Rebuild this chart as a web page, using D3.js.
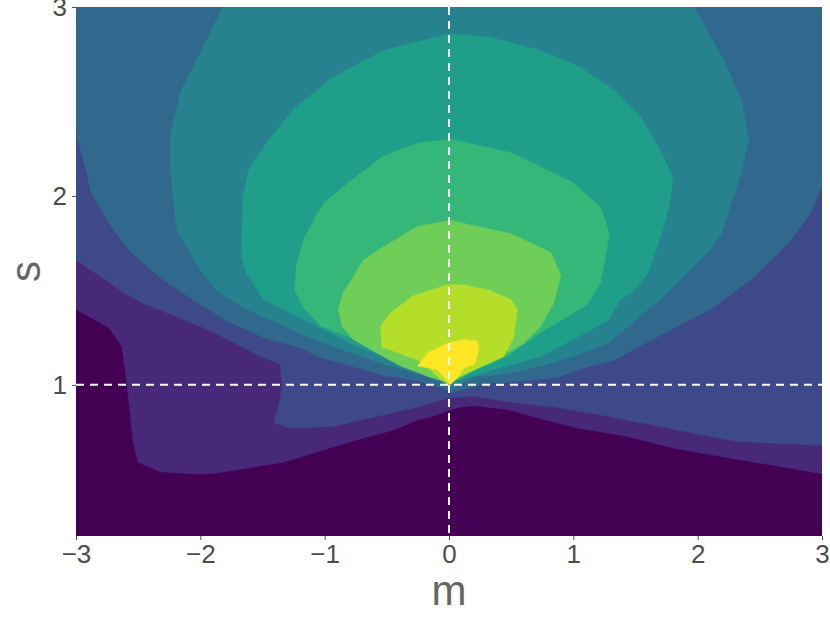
<!DOCTYPE html>
<html>
<head>
<meta charset="utf-8">
<script src="https://cdn.jsdelivr.net/npm/d3@7"></script>
<style>
    body { margin: 0; background: #fff; }
    text { font-family: "Liberation Sans", Arial, sans-serif; }
</style>
</head>
<body>
<div id="chart"></div>
<script>
// tick values
const mTicks = [-3, -2, -1, 0, 1, 2, 3];
const sTicks = [1, 2, 3];

// contour level boundaries, as [m, s] pairs
// levels 1-3 run from the left edge to the right edge (region above them is filled)
const level1 = [[-3.00, 1.40], [-2.73, 1.30], [-2.63, 1.20], [-2.59, 1.00], [-2.54, 0.70], [-2.50, 0.59],
    [-2.32, 0.54], [-2.08, 0.53], [-1.90, 0.53], [-1.33, 0.59], [-0.79, 0.70], [-0.45, 0.76], [-0.25, 0.815],
    [-0.15, 0.83], [0.07, 0.88], [0.20, 0.89], [0.47, 0.87], [0.74, 0.82], [1.04, 0.77], [1.41, 0.73],
    [1.84, 0.66], [2.37, 0.60], [3.00, 0.53]];
const level2 = [[-3.00, 1.66], [-2.73, 1.54], [-2.62, 1.49], [-2.46, 1.43], [-2.19, 1.36], [-1.93, 1.29],
    [-1.69, 1.21], [-1.52, 1.15], [-1.36, 1.11], [-1.34, 1.00], [-1.37, 0.89], [-1.41, 0.80], [-1.28, 0.77],
    [-0.93, 0.78], [-0.53, 0.84], [-0.21, 0.89], [0.00, 0.93], [0.21, 0.94], [0.47, 0.91], [0.87, 0.88],
    [1.22, 0.84], [1.54, 0.80], [1.92, 0.75], [2.32, 0.70], [3.00, 0.68]];
const level3 = [[-3.00, 2.33], [-2.92, 2.14], [-2.88, 2.02], [-2.80, 1.93], [-2.71, 1.83], [-2.57, 1.71],
    [-2.33, 1.57], [-2.06, 1.45], [-1.79, 1.34], [-1.49, 1.25], [-1.17, 1.19], [-1.06, 1.15], [-0.79, 1.10],
    [-0.53, 1.05], [-0.25, 1.02], [-0.04, 0.98], [0.01, 0.96], [0.33, 1.01], [0.60, 1.02], [0.87, 1.04],
    [1.14, 1.10], [1.33, 1.13], [1.52, 1.20], [1.78, 1.29], [2.13, 1.41], [2.45, 1.57], [2.73, 1.75],
    [2.91, 1.91], [3.00, 2.05]];
// level 4 touches the top edge
const level4 = [[-1.82, 3.00], [-2.00, 2.76], [-2.16, 2.55], [-2.24, 2.33], [-2.24, 2.15], [-2.22, 1.99],
    [-2.19, 1.82], [-2.11, 1.73], [-1.98, 1.59], [-1.87, 1.50], [-1.66, 1.41], [-1.39, 1.33], [-1.12, 1.25],
    [-0.79, 1.17], [-0.53, 1.11], [-0.25, 1.06], [-0.04, 1.01], [0.01, 0.98], [0.20, 1.04], [0.47, 1.06],
    [0.74, 1.10], [1.00, 1.15], [1.28, 1.22], [1.46, 1.32], [1.78, 1.50], [2.08, 1.70], [2.19, 1.80],
    [2.24, 1.90], [2.35, 2.12], [2.41, 2.30], [2.35, 2.51], [2.21, 2.72], [1.97, 3.00]];
// levels 5-9 are closed
const level5 = [[0.01, 2.86], [0.33, 2.84], [0.74, 2.77], [1.06, 2.68], [1.33, 2.56], [1.54, 2.42],
    [1.70, 2.24], [1.80, 2.10], [1.78, 1.98], [1.73, 1.84], [1.60, 1.59], [1.49, 1.50], [1.38, 1.45],
    [1.28, 1.34], [1.00, 1.24], [0.74, 1.15], [0.47, 1.10], [0.20, 1.05], [0.01, 1.01], [-0.04, 1.03],
    [-0.25, 1.08], [-0.53, 1.15], [-0.79, 1.22], [-1.06, 1.31], [-1.33, 1.40], [-1.49, 1.45], [-1.63, 1.59],
    [-1.67, 1.68], [-1.66, 1.99], [-1.61, 2.14], [-1.48, 2.27], [-1.25, 2.46], [-0.93, 2.63], [-0.53, 2.77]];
const level6 = [[0.01, 2.30], [0.50, 2.23], [1.00, 2.07], [1.22, 1.94], [1.29, 1.80], [1.22, 1.54],
    [1.12, 1.43], [0.95, 1.36], [0.74, 1.28], [0.47, 1.15], [0.20, 1.08], [0.01, 1.03], [-0.09, 1.08],
    [-0.25, 1.13], [-0.53, 1.19], [-0.79, 1.25], [-1.03, 1.31], [-1.17, 1.41], [-1.24, 1.50], [-1.23, 1.62],
    [-1.17, 1.77], [-1.07, 1.89], [-1.01, 1.96], [-0.79, 2.08], [-0.53, 2.21], [-0.25, 2.28]];
const level7 = [[0.01, 1.87], [0.50, 1.80], [0.82, 1.70], [0.90, 1.58], [0.84, 1.43], [0.74, 1.31],
    [0.60, 1.22], [0.47, 1.17], [0.33, 1.12], [0.15, 1.06], [0.01, 1.01], [-0.15, 1.04], [-0.39, 1.10],
    [-0.53, 1.15], [-0.77, 1.24], [-0.86, 1.31], [-0.89, 1.40], [-0.85, 1.49], [-0.77, 1.57], [-0.69, 1.66],
    [-0.53, 1.73], [-0.25, 1.84]];
const level8 = [[-0.01, 1.53], [0.12, 1.53], [0.33, 1.50], [0.50, 1.45], [0.55, 1.40], [0.52, 1.25],
    [0.44, 1.15], [0.31, 1.11], [0.17, 1.07], [0.07, 1.04], [0.00, 1.00], [-0.07, 1.03], [-0.15, 1.08],
    [-0.25, 1.13], [-0.41, 1.17], [-0.54, 1.20], [-0.55, 1.31], [-0.47, 1.38], [-0.29, 1.47]];
const level9 = [[-0.25, 1.10], [-0.17, 1.17], [-0.01, 1.22], [0.12, 1.24], [0.23, 1.23], [0.24, 1.19],
    [0.21, 1.11], [0.12, 1.09], [0.07, 1.04], [0.01, 1.00], [-0.04, 1.04], [-0.09, 1.08]];

const levels = [level1, level2, level3, level4, level5, level6, level7, level8, level9];
// which levels are open curves that need the top corners to close
const openLevels = [0, 1, 2];

const width = 830, height = 623;
const margin = {top: 7, right: 8, bottom: 87, left: 76};

const x = d3.scaleLinear().domain([-3, 3]).range([margin.left, width - margin.right]);
const y = d3.scaleLinear().domain([0.2, 3]).range([height - margin.bottom, margin.top]);

const color = (k) => d3.interpolateViridis(k / 9);

const svg = d3.select("#chart")
    .append("svg")
    .attr("width", width)
    .attr("height", height);

svg.append("clipPath")
    .attr("id", "plot-clip")
    .append("rect")
    .attr("x", x(-3))
    .attr("y", y(3))
    .attr("width", x(3) - x(-3))
    .attr("height", y(0.2) - y(3));

const plot = svg.append("g").attr("clip-path", "url(#plot-clip)");

// lowest band fills the whole panel
plot.append("rect")
    .attr("x", x(-3))
    .attr("y", y(3))
    .attr("width", x(3) - x(-3))
    .attr("height", y(0.2) - y(3))
    .attr("fill", color(0));

const line = d3.line()
    .x(d => x(d[0]))
    .y(d => y(d[1]));

levels.forEach((pts, i) => {
    let poly = pts.slice();
    if (openLevels.includes(i)) {
        poly.push([3, 3], [-3, 3]);
    }
    plot.append("path")
        .attr("d", line(poly) + "Z")
        .attr("fill", color(i + 1))
        .attr("stroke", color(i + 1))
        .attr("stroke-width", 0.5);
});

// reference lines at m = 0 and s = 1
plot.append("line")
    .attr("x1", x(0)).attr("x2", x(0))
    .attr("y1", y(3)).attr("y2", y(0.2))
    .attr("stroke", "white")
    .attr("stroke-width", 2)
    .attr("stroke-dasharray", "8,6");

plot.append("line")
    .attr("x1", x(-3)).attr("x2", x(3))
    .attr("y1", y(1)).attr("y2", y(1))
    .attr("stroke", "white")
    .attr("stroke-width", 2)
    .attr("stroke-dasharray", "8,6");

// axes
const fmt = d3.format("d");

const xAxis = svg.append("g")
    .attr("transform", "translate(0," + y(0.2) + ")")
    .call(d3.axisBottom(x).tickValues(mTicks).tickFormat(fmt).tickSize(4).tickPadding(5));

const yAxis = svg.append("g")
    .attr("transform", "translate(" + x(-3) + ",0)")
    .call(d3.axisLeft(y).tickValues(sTicks).tickFormat(fmt).tickSize(4).tickPadding(5));

[xAxis, yAxis].forEach(ax => {
    ax.select(".domain").remove();
    ax.selectAll(".tick line").attr("stroke", "#4d4d4d");
    ax.selectAll(".tick text")
        .attr("fill", "#4d4d4d")
        .style("font-size", "26px")
        .style("font-family", "'Liberation Sans', Arial, sans-serif");
});

svg.append("text")
    .attr("x", (x(-3) + x(3)) / 2)
    .attr("y", 605)
    .attr("text-anchor", "middle")
    .attr("fill", "#666")
    .style("font-size", "42px")
    .text("m");

svg.append("text")
    .attr("transform", "translate(40," + (y(3) + y(0.2)) / 2 + ") rotate(-90)")
    .attr("text-anchor", "middle")
    .attr("fill", "#666")
    .style("font-size", "42px")
    .text("s");
</script>
</body>
</html>
